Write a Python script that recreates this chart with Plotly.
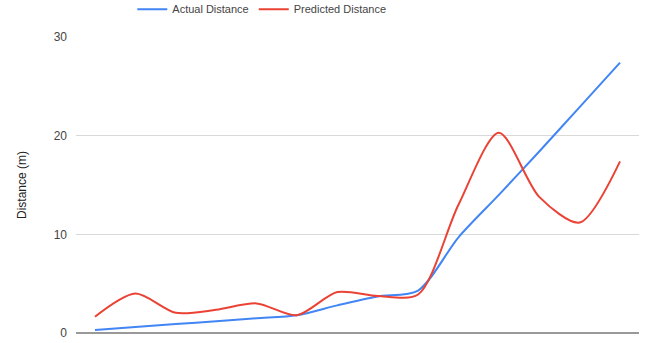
import plotly.graph_objects as go

# Sample index along the run and measured vs. predicted distances (m)
samples = list(range(14))
actual_distance = [0.3, 0.6, 0.9, 1.2, 1.5, 1.8, 2.8, 3.7, 4.3, 9.7, 14.0, 18.4, 22.9, 27.4]
predicted_distance = [1.65, 4.0, 2.05, 2.35, 3.0, 1.8, 4.15, 3.75, 3.9, 13.0, 20.3, 13.8, 11.2, 17.4]
y_ticks = [0, 10, 20, 30]

fig = go.Figure()
fig.add_trace(go.Scatter(
    x=samples, y=actual_distance, name="Actual Distance", mode="lines",
    line=dict(color="#4285F4", width=2, shape="spline", smoothing=0.8),
))
fig.add_trace(go.Scatter(
    x=samples, y=predicted_distance, name="Predicted Distance", mode="lines",
    line=dict(color="#EA4335", width=2, shape="spline", smoothing=0.8),
))

fig.update_layout(
    width=649, height=343,
    margin=dict(l=76, r=10, t=37, b=10, autoexpand=False),
    paper_bgcolor="white", plot_bgcolor="white",
    font=dict(family="Arial, Liberation Sans, sans-serif", size=12, color="#444444"),
    showlegend=True,
    legend=dict(
        orientation="h", x=0.100, xanchor="left", y=1.094, yanchor="middle",
        yref="paper", font=dict(size=11, color="#444444"),
        itemwidth=30, bgcolor="rgba(0,0,0,0)",
    ),
    xaxis=dict(
        range=[-0.47, 13.47], showgrid=False, zeroline=False,
        showticklabels=False, ticks="", showline=False,
    ),
    yaxis=dict(
        range=[0, 30], tickvals=y_ticks, showgrid=True, gridcolor="#d9d9d9",
        gridwidth=1, zeroline=True, zerolinecolor="#999999", zerolinewidth=2,
        ticks="", ticklabelstandoff=8, tickfont=dict(size=12, color="#444444"),
        title=dict(text="Distance (m)", font=dict(size=12, color="#222222"),
                   standoff=24),
    ),
)

fig.write_html("out.html")
